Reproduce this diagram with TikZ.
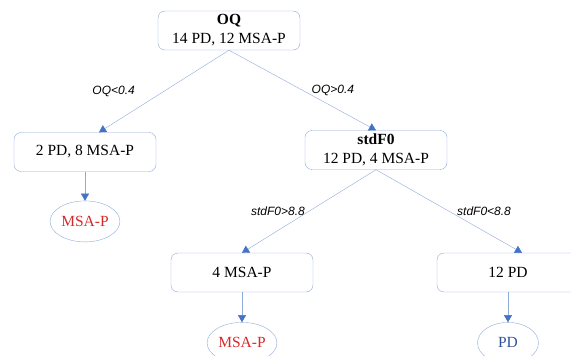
\documentclass[tikz,border=0pt]{standalone}
\usepackage{fontspec}
\setmainfont{Liberation Serif}
\newfontfamily\labelfont{Liberation Sans}
\usetikzlibrary{arrows.meta,positioning,shapes.geometric}
\definecolor{lineblue}{HTML}{8EAADB}
\definecolor{tipblue}{HTML}{4472C4}
\definecolor{leafred}{HTML}{D42A2A}
\definecolor{leafblue}{HTML}{2F5597}

\tikzset{
  splitbox/.style={draw=lineblue,rounded corners=7pt,fill=white,minimum width=142pt,minimum height=39pt,align=center,font=\fontsize{15.5}{19}\selectfont},
  leaf/.style={draw=lineblue,ellipse,minimum width=61pt,minimum height=41pt,inner sep=1pt,font=\fontsize{15.5}{19}\selectfont},
  edgelab/.style={font=\labelfont\itshape\fontsize{12}{14}\selectfont,inner sep=4pt},
  branch/.style={draw=lineblue,-{Triangle[width=8pt,length=7pt,color=tipblue]}}
}

\begin{document}
\begin{tikzpicture}[x=1pt,y=-1pt,node distance=29pt]
    \useasboundingbox (0,0) rectangle (571,356);
    \node[splitbox] (oq) at (229,30.5) {\textbf{OQ}\\14 PD, 12 MSA-P};
    \node[splitbox] (lo) at (85,152) {2 PD, 8 MSA-P};
    \node[splitbox] (sf) at (376,150) {\textbf{stdF0}\\12 PD, 4 MSA-P};
    \node[splitbox] (hi) at (242,272.5) {4 MSA-P};
    \node[splitbox] (pd) at (508,272.5) {12 PD};
    \node[leaf,text=leafred,below=of lo] (lomsa) {MSA-P};
    \node[leaf,text=leafred,below=30pt of hi] (himsa) {MSA-P};
    \node[leaf,text=leafblue,below=30pt of pd] (pdleaf) {PD};
    % splits
    \draw[branch] (oq.south) -- ([xshift=14pt]lo.north) node[edgelab,midway,left=25pt] {OQ<0.4};
    \draw[branch] (oq.south) -- (sf.north) node[edgelab,midway,right=5pt] {OQ>0.4};
    \draw[branch] (sf.south) -- (hi.north) node[edgelab,midway,left=0pt] {stdF0>8.8};
    \draw[branch] (sf.south) -- ([xshift=14pt]pd.north) node[edgelab,midway,right=4pt] {stdF0<8.8};
    % leaves
    \draw[branch] (lo) -- (lomsa);
    \draw[branch] (hi) -- (himsa);
    \draw[branch] (pd) -- (pdleaf);
\end{tikzpicture}
\end{document}
